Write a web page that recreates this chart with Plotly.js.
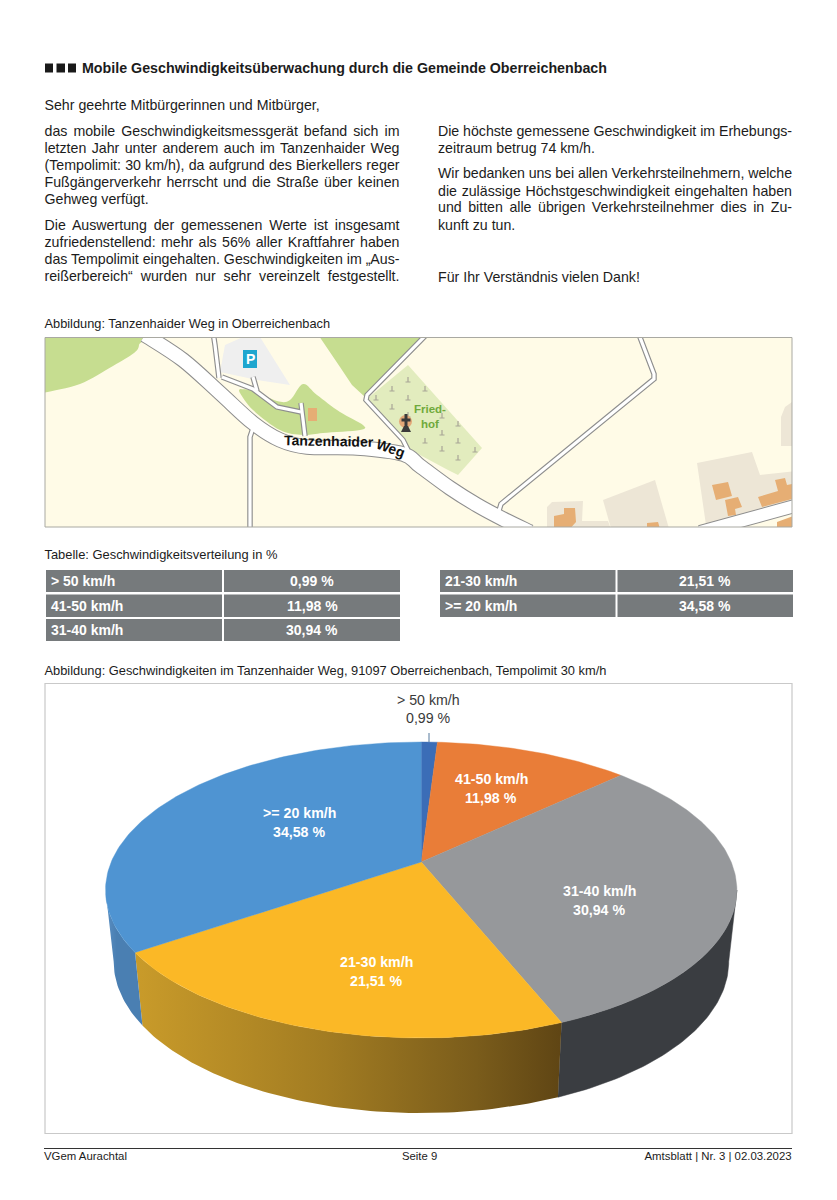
<!DOCTYPE html>
<html lang="de"><head><meta charset="utf-8">
<script src="https://cdn.plot.ly/plotly-3.0.1.min.js"></script>
<style>
html,body{margin:0;padding:0;background:#fff;}
#page{position:relative;width:837px;height:1200px;overflow:hidden;}
#plot{position:absolute;left:0;top:0;width:837px;height:1200px;}
.t{position:absolute;white-space:nowrap;font-family:"Liberation Sans",Arial,sans-serif;color:#1c1c1c;height:18px;line-height:18px;}
</style></head><body>
<div id="page"><div id="plot"></div></div>
<script>
// ---- chart data ----
const categories = ['> 50 km/h','41-50 km/h','31-40 km/h','21-30 km/h','>= 20 km/h'];
const shares = [0.99, 11.98, 30.94, 21.51, 34.58];
const topColors = ['#3b6db7','#e97d38','#96989b','#fbb826','#4f94d2'];
const wallColors = ['#2f5790','#b05c28','#3a3d41','#b8891f','#4c82b6'];
const labelColors = ['#3a3a3a','#ffffff','#ffffff','#ffffff','#ffffff'];
const leftTable = [0,1,2], rightTable = [3,4];
const pct = v => v.toFixed(2).replace('.',',') + ' %';

// ---- page text ----
const W=399.5-44.5, R=792-438;
const bodyLines = [
 ['Sehr geehrte Mitbürgerinnen und Mitbürger,',44.5,105,0],
 ['das mobile Geschwindigkeitsmessgerät befand sich im',44.5,130.5,W],
 ['letzten Jahr unter anderem auch im Tanzenhaider Weg',44.5,148,W],
 ['(Tempolimit: 30 km/h), da aufgrund des Bierkellers reger',44.5,165,W],
 ['Fußgängerverkehr herrscht und die Straße über keinen',44.5,182,W],
 ['Gehweg verfügt.',44.5,199,0],
 ['Die Auswertung der gemessenen Werte ist insgesamt',44.5,224.5,W],
 ['zufriedenstellend: mehr als 56% aller Kraftfahrer haben',44.5,241.5,W],
 ['das Tempolimit eingehalten. Geschwindigkeiten im „Aus-',44.5,259,W],
 ['reißerbereich“ wurden nur sehr vereinzelt festgestellt.',44.5,275.5,W],
 ['Die höchste gemessene Geschwindigkeit im Erhebungs-',438,131,R],
 ['zeitraum betrug 74 km/h.',438,148,0],
 ['Wir bedanken uns bei allen Verkehrsteilnehmern, welche',438,173,R],
 ['die zulässige Höchstgeschwindigkeit eingehalten haben',438,190.5,R],
 ['und bitten alle übrigen Verkehrsteilnehmer dies in Zu-',438,207,R],
 ['kunft zu tun.',438,224.5,0],
 ['Für Ihr Verständnis vielen Dank!',438,276.5,0]
];
const page = document.getElementById('page');
function addLine(text,x,cy,width,size,extra){
  const d=document.createElement('div');
  d.className='t';
  d.textContent=text;
  d.style.left=x+'px'; d.style.top=(cy-9)+'px'; d.style.fontSize=size+'px';
  if(extra) Object.assign(d.style,extra);
  page.appendChild(d);
  if(width){ // fit the line to the column, as the justified original does
    const natural=d.getBoundingClientRect().width, gaps=text.split(' ').length-1;
    if(natural>width) d.style.letterSpacing=((width-natural)/text.length)+'px';
    else d.style.wordSpacing=((width-natural)/gaps)+'px';
  }
}
bodyLines.forEach(l=>addLine(l[0],l[1],l[2],l[3],14.2));
addLine('Mobile Geschwindigkeitsüberwachung durch die Gemeinde Oberreichenbach',82,68,0,14.25,{fontWeight:'bold'});
addLine('Abbildung: Tanzenhaider Weg in Oberreichenbach',44.5,323.5,0,12.8);
addLine('Tabelle: Geschwindigkeitsverteilung in %',44.5,555,0,12.9);
addLine('Abbildung: Geschwindigkeiten im Tanzenhaider Weg, 91097 Oberreichenbach, Tempolimit 30 km/h',44.5,671,0,12.85);
addLine('VGem Aurachtal',44,1155.5,0,11.4);
addLine('Seite 9',402,1155.5,0,11.3);
addLine('Amtsblatt | Nr. 3 | 02.03.2023',644.5,1155.5,0,11.4);

// ---- pie geometry: perspective view of a disc ----
const cx=421.2, cyTop=862, cyBot=933, P=0.189;
const project=(deg,a,b,cy)=>{const t=deg*Math.PI/180,d=1+P*Math.cos(t);
  return [cx+a*Math.sin(t)/d, cy-b*Math.cos(t)/d];};
const topPt=d=>project(d,310,142.7,cyTop), botPt=d=>project(d,302,146,cyBot);
function arc(fn,from,to){const n=Math.max(2,Math.ceil(Math.abs(to-from))),o=[];
  for(let i=0;i<=n;i++)o.push(fn(from+(to-from)*i/n));return o;}
const total=shares.reduce((a,b)=>a+b,0);
let acc=0; const bounds=shares.map(v=>{const s=acc;acc+=v;return [s/total*360,acc/total*360];});
// only the part of the rim between the two silhouette angles faces the viewer
const silhouette=Math.acos(-P)*180/Math.PI, frontFrom=silhouette, frontTo=360-silhouette;

const traces=[];
shares.forEach((v,i)=>{
  const a=Math.max(bounds[i][0],frontFrom), b=Math.min(bounds[i][1],frontTo);
  if(b<=a) return;
  const pts=arc(botPt,a,b).reverse().concat(arc(topPt,a,b));
  pts.push(pts[0]);
  const tr={type:'scatter',mode:'lines',x:pts.map(p=>p[0]),y:pts.map(p=>p[1]),fill:'toself',
    fillcolor:wallColors[i],line:{color:wallColors[i],width:0.5},hoverinfo:'skip',showlegend:false};
  if(i===3){tr.fillgradient={type:'horizontal',colorscale:[[0,'#c99b2a'],[0.45,'#a27c22'],[0.8,'#7a5c1b'],[1,'#5f4514']]};tr.line={width:0};}
  if(i===4){tr.fillgradient={type:'horizontal',colorscale:[[0,'#5b90c4'],[0.3,'#4a7fb2'],[1,'#4a7fb2']]};tr.line={width:0};}
  traces.push(tr);
});
shares.forEach((v,i)=>{
  const [a,b]=bounds[i];
  const pts=[[cx,cyTop]].concat(arc(topPt,a,b)); pts.push([cx,cyTop]);
  traces.push({type:'scatter',mode:'lines',x:pts.map(p=>p[0]),y:pts.map(p=>p[1]),fill:'toself',
    fillcolor:topColors[i],line:{color:topColors[i],width:0.4},name:categories[i],hoverinfo:'name',showlegend:false});
});
traces.push({type:'scatter',x:[null],y:[null],xaxis:'x2',yaxis:'y2',hoverinfo:'skip',showlegend:false});

// ---- page furniture ----
const shapes=[], annotations=[];
const rect=(x0,y0,x1,y1,fill,line,lw,layer)=>shapes.push({type:'rect',xref:'x',yref:'y',x0,y0,x1,y1,fillcolor:fill||'rgba(0,0,0,0)',line:{color:line||'rgba(0,0,0,0)',width:lw||0},layer:layer||'below'});
const note=(text,x,y,size,color,extra)=>annotations.push(Object.assign({text,x,y,xref:'x',yref:'y',showarrow:false,xanchor:'center',yanchor:'middle',
  font:{family:'"Liberation Sans",Arial,sans-serif',size,color}},extra||{}));
[[45,53],[56.5,65],[68,76]].forEach(s=>rect(s[0],63.5,s[1],72.5,'#1a1a1a'));

// tables
const rowY=[[570,592],[594.5,617],[619,641]];
const colsL=[[46,222],[224,400]], colsR=[[440,615.5],[617.5,793]];
function table(rows,cols){rows.forEach((c,r)=>{
  rect(cols[0][0],rowY[r][0],cols[0][1],rowY[r][1],'#767a7c');
  rect(cols[1][0],rowY[r][0],cols[1][1],rowY[r][1],'#767a7c');
  note('<b>'+categories[c]+'</b>',cols[0][0]+3,(rowY[r][0]+rowY[r][1])/2,14,'#fff',{xanchor:'left'});
  note('<b>'+pct(shares[c])+'</b>',(cols[1][0]+cols[1][1])/2,(rowY[r][0]+rowY[r][1])/2,14,'#fff');
});}
table(leftTable,colsL); table(rightTable,colsR);

// chart frame and footer rule
rect(45,683.5,792,1133.5,null,'#c9c9c9',1.2);
shapes.push({type:'line',xref:'x',yref:'y',x0:44,x1:792,y0:1148.5,y1:1148.5,line:{color:'#333',width:1},layer:'below'});
shapes.push({type:'line',xref:'x',yref:'y',x0:429,x1:429,y0:733,y1:742,line:{color:'#55789c',width:1},layer:'above'});

// pie labels
const labelPos=[[428,700,718],[491,779,798],[599,891,910],[376,962,981],[299,813,832]];
shares.forEach((v,i)=>{const p=labelPos[i],b=i>0;
  note(b?'<b>'+categories[i]+'</b>':categories[i],p[0],p[1],14.2,labelColors[i]);
  note(b?'<b>'+pct(v)+'</b>':pct(v),p[0],p[2],14.2,labelColors[i]);});

// ---- map, clipped by its own subplot ----
const mapShape=(path,fill,line,lw)=>shapes.push({type:'path',xref:'x2',yref:'y2',path,fillcolor:fill||'rgba(0,0,0,0)',line:{color:line||'rgba(0,0,0,0)',width:lw||0},layer:'above'});
const poly=pts=>'M'+pts.map(p=>p.join(' ')).join('L')+'Z';
const open=pts=>'M'+pts.map(p=>p.join(' ')).join('L');
const curve=pts=>{let s='M'+pts[0].join(' ');for(let i=0;i<pts.length-1;i++){
  const p0=pts[i-1]||pts[i],p1=pts[i],p2=pts[i+1],p3=pts[i+2]||p2;
  s+='C'+(p1[0]+(p2[0]-p0[0])/6)+' '+(p1[1]+(p2[1]-p0[1])/6)+' '+(p2[0]-(p3[0]-p1[0])/6)+' '+(p2[1]-(p3[1]-p1[1])/6)+' '+p2[0]+' '+p2[1];}return s;};
const GREEN='#c6dd90',BG='#fffbe7',BEIGE='#ede6d6',ORANGE='#e6ae74';
mapShape(poly([[40,332],[800,332],[800,532],[40,532]]),BG);
mapShape(curve([[45,392.5],[80,384],[113,366],[134,353],[139,345],[136,336],[40,336],[40,393],[45,392.5]])+'Z',GREEN);
mapShape(poly([[319,336],[428,336],[424,340],[365,397],[352,385],[340,367]]),GREEN);
mapShape(poly([[220,372],[225,345],[243,337],[260,337],[290,385],[257,380]]),'#efefef');
mapShape(curve([[240,389],[253,391],[277,401],[290,400],[303,384],[317,395],[340,412],[363,425],[360,430],[323,433],[303,435],[280,430],[253,410],[240,393],[240,389]])+'Z',GREEN);
mapShape(poly([[368,398],[408,365],[482,448],[458,475],[448,470],[405,447]]),'#e2ecbe');
[[547,507,552,502,583,501,582,521,608,521,612,532,547,532],[603,500,655,480,670,532,612,532],
 [697,463,752,452,760,475,796,471,796,500,712,532,707,532],[796,399,785,407,781,417,781,446,796,446]].forEach(a=>{
  const pts=[];for(let i=0;i<a.length;i+=2)pts.push([a[i],a[i+1]]);mapShape(poly(pts),BEIGE);});
[[554,516,564,514,564,508,575,508,576,522,567,532,554,532],[580,527,612,527,612,532,580,532],[647,523,658,522,661,532,647,532],
 [712,485,728,482,732,496,716,500],[725,500,738,497,742,507,735,509,736,515,728,516],
 [758,497,778,491,775,480,785,478,787,485,796,483,796,498,762,507],[777,522,796,515,796,532,777,532],[308,408,317,408,317,421,308,421]].forEach(a=>{
  const pts=[];for(let i=0;i<a.length;i+=2)pts.push([a[i],a[i+1]]);mapShape(poly(pts),ORANGE);});
const minorRoads=[
 [[213,332],[215,345],[219,378]],
 [[222,377],[253,389],[277,407],[301,412]],
 [[253,377],[257,391]],
 [[301,403],[305,436]],
 [[254,425],[250,437],[250,532]],
 [[428,333],[367,395],[366,400],[403,440],[408,450]],
 [[638,332],[654,374],[654,379],[501,504],[498,514]]
];
const mainRoad=[[145,335],[183,360],[220,393],[253,423],[280,440],[307,447],[357,448],[403,454],[420,466],[450,488],[477,505],[503,519],[530,532]];
const eastRoad=[[806,503],[700,532]];
minorRoads.forEach(r=>mapShape(open(r),null,'#8e8e8e',5.5));
mapShape(curve(mainRoad),null,'#8e8e8e',15.5);
mapShape(open(eastRoad),null,'#8e8e8e',14);
minorRoads.forEach(r=>mapShape(open(r),null,'#ffffff',3.2));
mapShape(curve(mainRoad),null,'#ffffff',13.5);
mapShape(open(eastRoad),null,'#ffffff',12);
[[408,380],[392,389],[376,398],[408,398],[392,407],[408,415],[425,389],[442,416],[458,424],[442,433],[425,441],[458,441],[442,449],[475,450],[458,458]].forEach(c=>
  mapShape(`M${c[0]} ${c[1]-3}L${c[0]} ${c[1]+2}M${c[0]-2.5} ${c[1]+2}L${c[0]+2.5} ${c[1]+2}`,null,'#a8a596',1.2));
shapes.push({type:'circle',xref:'x2',yref:'y2',x0:399,x1:412,y0:415,y1:428,fillcolor:'#e3a878',line:{width:0},layer:'above'});
mapShape('M406 414L406 430M401.5 420L410.5 420',null,'#3a3a3a',3);
mapShape(poly([[401,432],[411,432],[408,426],[404,426]]),'#3a3a3a');
mapShape(poly([[243,350],[257,350],[257,368],[243,368]]),'#1ea6cf');
rect(45,337.5,792,527,null,'#a9a9a2',1,'above');
note('<b>P</b>',250,359,14,'#fff');
note('<b>Fried-</b>',429.5,409,11.5,'#6fa93c');
note('<b>hof</b>',430,424,11.5,'#6fa93c');
note('<b>Tanzenhaider</b>',329,441,14,'#111',{textangle:1});
note('<b>Weg</b>',390,448,14,'#111',{textangle:20});

const hidden={visible:false,fixedrange:true};
Plotly.newPlot('plot',traces,{
  width:837,height:1200,margin:{l:0,r:0,t:0,b:0},paper_bgcolor:'rgba(0,0,0,0)',plot_bgcolor:'rgba(0,0,0,0)',showlegend:false,
  xaxis:Object.assign({range:[0,837],domain:[0,1]},hidden),
  yaxis:Object.assign({range:[1200,0],domain:[0,1]},hidden),
  xaxis2:Object.assign({range:[45,792],domain:[45/837,792/837],anchor:'y2'},hidden),
  yaxis2:Object.assign({range:[527,337.5],domain:[1-527/1200,1-337.5/1200],anchor:'x2'},hidden),
  shapes,annotations
},{displayModeBar:false,staticPlot:true});
</script>
</body></html>
